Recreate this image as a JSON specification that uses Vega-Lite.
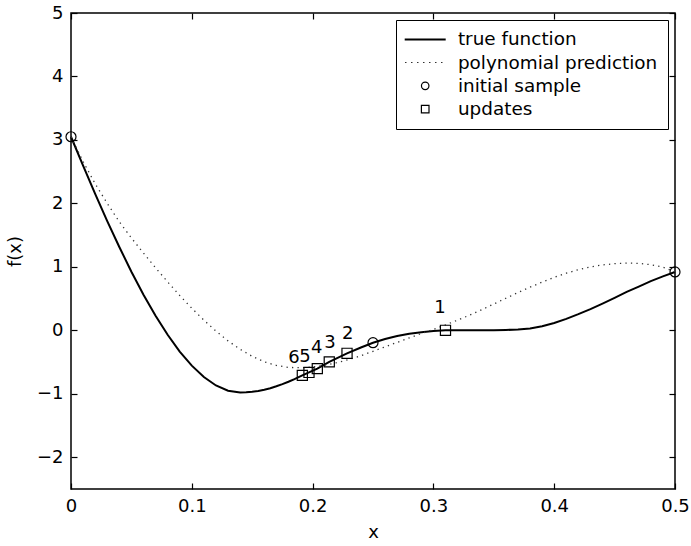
{
  "$schema": "https://vega.github.io/schema/vega-lite/v6.json",
  "width": 604,
  "height": 476,
  "autosize": {"type": "none"},
  "padding": {"left": 71, "top": 13, "right": 16, "bottom": 57},
  "background": "white",
  "config": {
    "font": "DejaVu Sans",
    "view": {"stroke": "black", "strokeWidth": 1.5},
    "axis": {
      "grid": false,
      "domain": false,
      "tickColor": "black",
      "tickSize": -6,
      "tickWidth": 1.2,
      "labelFont": "DejaVu Sans",
      "labelFontSize": 18,
      "labelColor": "black",
      "labelPadding": 14,
      "labelFlush": false,
      "labelOverlap": false,
      "titleFont": "DejaVu Sans",
      "titleFontSize": 18,
      "titleFontWeight": "normal",
      "titleColor": "black"
    }
  },
  "datasets": {
    "truef": [
      {"x": 0, "y": 3.05}, {"x": 0.01, "y": 2.594}, {"x": 0.02, "y": 2.151}, {"x": 0.03, "y": 1.722},
      {"x": 0.04, "y": 1.313}, {"x": 0.05, "y": 0.924}, {"x": 0.06, "y": 0.562}, {"x": 0.07, "y": 0.23},
      {"x": 0.08, "y": -0.07}, {"x": 0.09, "y": -0.334}, {"x": 0.1, "y": -0.556}, {"x": 0.11, "y": -0.736},
      {"x": 0.12, "y": -0.869}, {"x": 0.13, "y": -0.952}, {"x": 0.14, "y": -0.98}, {"x": 0.145, "y": -0.977},
      {"x": 0.15, "y": -0.969}, {"x": 0.155, "y": -0.955}, {"x": 0.16, "y": -0.936}, {"x": 0.165, "y": -0.912},
      {"x": 0.17, "y": -0.882}, {"x": 0.175, "y": -0.848}, {"x": 0.18, "y": -0.81}, {"x": 0.185, "y": -0.768},
      {"x": 0.1915, "y": -0.71}, {"x": 0.197, "y": -0.663}, {"x": 0.2039, "y": -0.603}, {"x": 0.2138, "y": -0.497},
      {"x": 0.2285, "y": -0.362}, {"x": 0.24, "y": -0.27}, {"x": 0.25, "y": -0.195}, {"x": 0.26, "y": -0.137},
      {"x": 0.27, "y": -0.09}, {"x": 0.28, "y": -0.055}, {"x": 0.29, "y": -0.03}, {"x": 0.3, "y": -0.012},
      {"x": 0.31, "y": 0.0}, {"x": 0.32, "y": 0.002}, {"x": 0.33, "y": 0.002}, {"x": 0.34, "y": 0.002},
      {"x": 0.35, "y": 0.003}, {"x": 0.36, "y": 0.006}, {"x": 0.37, "y": 0.013}, {"x": 0.38, "y": 0.03},
      {"x": 0.39, "y": 0.065}, {"x": 0.4, "y": 0.115}, {"x": 0.41, "y": 0.18}, {"x": 0.42, "y": 0.255},
      {"x": 0.43, "y": 0.335}, {"x": 0.44, "y": 0.42}, {"x": 0.45, "y": 0.51}, {"x": 0.46, "y": 0.605},
      {"x": 0.47, "y": 0.69}, {"x": 0.48, "y": 0.775}, {"x": 0.49, "y": 0.85}, {"x": 0.5, "y": 0.92}
    ],
    "poly": [
      {"x": 0, "y": 3.05}, {"x": 0.01, "y": 2.66}, {"x": 0.02, "y": 2.31}, {"x": 0.03, "y": 2.0},
      {"x": 0.04, "y": 1.71}, {"x": 0.05, "y": 1.455}, {"x": 0.06, "y": 1.218}, {"x": 0.07, "y": 0.986},
      {"x": 0.08, "y": 0.763}, {"x": 0.09, "y": 0.549}, {"x": 0.1, "y": 0.348}, {"x": 0.11, "y": 0.16},
      {"x": 0.12, "y": -0.012}, {"x": 0.13, "y": -0.166}, {"x": 0.14, "y": -0.299}, {"x": 0.15, "y": -0.41},
      {"x": 0.16, "y": -0.496}, {"x": 0.17, "y": -0.553}, {"x": 0.18, "y": -0.584}, {"x": 0.19, "y": -0.59},
      {"x": 0.2, "y": -0.578}, {"x": 0.21, "y": -0.55}, {"x": 0.22, "y": -0.51}, {"x": 0.23, "y": -0.46},
      {"x": 0.24, "y": -0.4}, {"x": 0.25, "y": -0.33}, {"x": 0.26, "y": -0.26}, {"x": 0.27, "y": -0.19},
      {"x": 0.28, "y": -0.12}, {"x": 0.29, "y": -0.05}, {"x": 0.3, "y": 0.015}, {"x": 0.31, "y": 0.085},
      {"x": 0.32, "y": 0.16}, {"x": 0.33, "y": 0.24}, {"x": 0.34, "y": 0.325}, {"x": 0.35, "y": 0.415},
      {"x": 0.36, "y": 0.505}, {"x": 0.37, "y": 0.595}, {"x": 0.38, "y": 0.68}, {"x": 0.39, "y": 0.76},
      {"x": 0.4, "y": 0.835}, {"x": 0.41, "y": 0.9}, {"x": 0.42, "y": 0.955}, {"x": 0.43, "y": 1.0},
      {"x": 0.44, "y": 1.03}, {"x": 0.45, "y": 1.05}, {"x": 0.46, "y": 1.06}, {"x": 0.47, "y": 1.055},
      {"x": 0.48, "y": 1.035}, {"x": 0.49, "y": 0.995}, {"x": 0.5, "y": 0.92}
    ],
    "samples": [
      {"x": 0, "y": 3.05, "kind": "initial sample"},
      {"x": 0.25, "y": -0.195, "kind": "initial sample"},
      {"x": 0.5, "y": 0.92, "kind": "initial sample"},
      {"x": 0.31, "y": 0.0, "kind": "updates"},
      {"x": 0.2285, "y": -0.362, "kind": "updates"},
      {"x": 0.2138, "y": -0.497, "kind": "updates"},
      {"x": 0.2039, "y": -0.603, "kind": "updates"},
      {"x": 0.197, "y": -0.663, "kind": "updates"},
      {"x": 0.1915, "y": -0.71, "kind": "updates"}
    ],
    "labels": [
      {"lx": 0.3055, "ly": 0.347, "label": "1"},
      {"lx": 0.229, "ly": -0.063, "label": "2"},
      {"lx": 0.2144, "ly": -0.195, "label": "3"},
      {"lx": 0.2034, "ly": -0.283, "label": "4"},
      {"lx": 0.1937, "ly": -0.425, "label": "5"},
      {"lx": 0.1846, "ly": -0.44, "label": "6"}
    ]
  },
  "layer": [
    {
      "data": {"name": "truef"},
      "mark": {"type": "line", "color": "black", "strokeWidth": 2},
      "encoding": {
        "x": {"field": "x", "type": "quantitative",
          "scale": {"domain": [0, 0.5], "nice": false, "zero": false},
          "axis": {"orient": "bottom", "values": [0, 0.1, 0.2, 0.3, 0.4, 0.5], "format": "~g", "title": "x", "titlePadding": 8}},
        "y": {"field": "y", "type": "quantitative",
          "scale": {"domain": [-2.5, 5], "nice": false, "zero": false},
          "axis": {"orient": "left", "values": [-2, -1, 0, 1, 2, 3, 4, 5], "format": "~g", "title": "f(x)", "titlePadding": 12}}
      }
    },
    {
      "data": {"name": "poly"},
      "mark": {"type": "line", "color": "#333333", "strokeWidth": 1.3, "strokeDash": [1.3, 4.2]},
      "encoding": {
        "x": {"field": "x", "type": "quantitative",
          "axis": {"orient": "top", "values": [0, 0.1, 0.2, 0.3, 0.4, 0.5], "labels": false, "title": null}},
        "y": {"field": "y", "type": "quantitative",
          "axis": {"orient": "right", "values": [-2, -1, 0, 1, 2, 3, 4, 5], "labels": false, "title": null}}
      }
    },
    {
      "data": {"name": "samples"},
      "mark": {"type": "point", "filled": false, "color": "black", "strokeWidth": 1.2, "size": 178, "opacity": 1},
      "encoding": {
        "x": {"field": "x", "type": "quantitative", "axis": null},
        "y": {"field": "y", "type": "quantitative", "axis": null},
        "shape": {"field": "kind", "type": "nominal",
          "scale": {
            "domain": ["true function", "polynomial prediction", "initial sample", "updates"],
            "range": [
              "M-4.1,0H4.1M-4.1,0.16H4.1",
              "M-4,0H-3.76M-2.8,0H-2.56M-1.6,0H-1.36M-0.4,0H-0.16M0.8,0H1.04M2,0H2.24M3.2,0H3.44",
              "M-0.75,0A0.75,0.75,0,1,0,0.75,0A0.75,0.75,0,1,0,-0.75,0Z",
              "M-0.76,-0.76H0.76V0.76H-0.76Z"
            ]
          },
          "legend": {
            "title": null,
            "orient": "top-right",
            "offset": 7,
            "padding": 10,
            "fillColor": "white",
            "strokeColor": "black",
            "symbolSize": 100,
            "symbolStrokeColor": "black",
            "symbolStrokeWidth": 1.2,
            "symbolFillColor": "transparent",
            "symbolOpacity": 1,
            "symbolOffset": 10,
            "labelFont": "DejaVu Sans",
            "labelFontSize": 18.4,
            "labelColor": "black",
            "labelOffset": 23.5,
            "labelLimit": 300,
            "rowPadding": 4.3,
            "encode": {
              "legend": {"update": {"strokeWidth": {"value": 1.5}}},
              "symbols": {"update": {
                "size": {"value": 100},
                "fill": {"value": "transparent"},
                "opacity": {"value": 1},
                "stroke": {"value": "black"}
              }}
            }
          }
        }
      }
    },
    {
      "data": {"name": "labels"},
      "mark": {"type": "text", "font": "DejaVu Sans", "fontSize": 18, "color": "black", "align": "center", "baseline": "middle"},
      "encoding": {
        "x": {"field": "lx", "type": "quantitative", "axis": null},
        "y": {"field": "ly", "type": "quantitative", "axis": null},
        "text": {"field": "label", "type": "nominal"}
      }
    }
  ],
  "resolve": {"axis": {"x": "independent", "y": "independent"}}
}
